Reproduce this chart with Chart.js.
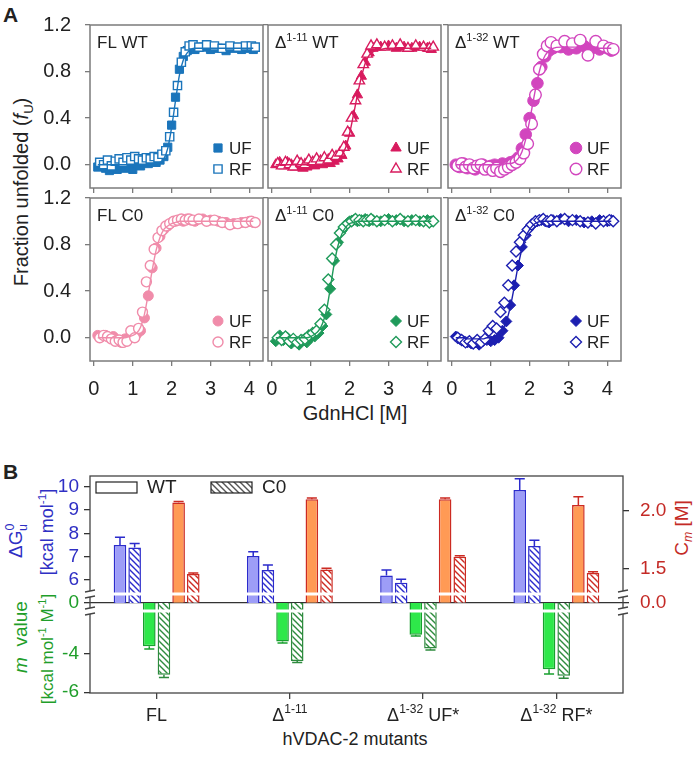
<!DOCTYPE html>
<html lang="en">
<head>
<meta charset="UTF-8" />
<title>hVDAC-2 chemical denaturation</title>
<script src="https://cdn.jsdelivr.net/npm/chart.js"></script>
<style>
  body { margin: 0; background: #fff; }
  #fig { position: relative; width: 693px; height: 758px; overflow: hidden;
         font-family: "Liberation Sans", Arial, sans-serif; color: #222; }
  #fig canvas { position: absolute; }
  .t { position: absolute; white-space: nowrap; line-height: 1; }
  .rot { transform: translate(-50%, -50%) rotate(-90deg); }
  .mid { transform: translate(-50%, -50%); }
  .panel { font-weight: bold; font-size: 21px; }
  sup, sub { font-size: 65%; line-height: 0; }
</style>
</head>
<body>
<div id="fig">
  <div class="t panel" style="left:3px; top:4px;">A</div>
  <div class="t panel" style="left:3px; top:461px;">B</div>
  <div class="t rot" style="left:21px; top:192px; font-size:20px;">Fraction unfolded (<i>f</i><sub>U</sub>)</div>
  <div class="t mid" style="left:355px; top:413px; font-size:20px;">GdnHCl [M]</div>

  <div class="t rot" style="left:15px; top:541px; font-size:19px; color:#2f2fc4;">&Delta;G<sup>0</sup><sub style="margin-left:-0.6em">u</sub></div>
  <div class="t rot" style="left:47px; top:532px; font-size:18px; color:#2f2fc4;">[kcal mol<sup>-1</sup>]</div>
  <div class="t rot" style="left:20px; top:637px; font-size:19px; color:#1f9e2a;"><i>m</i>&nbsp; value</div>
  <div class="t rot" style="left:47px; top:649px; font-size:17px; color:#1f9e2a;">[kcal mol<sup>-1</sup> M<sup>-1</sup>]</div>
  <div class="t rot" style="left:681px; top:528px; font-size:19px; color:#c42a26;">C<sub><i>m</i></sub> [M]</div>
  <div class="t mid" style="left:355px; top:739px; font-size:18px;">hVDAC-2 mutants</div>
</div>

<script>
  // ---------- Panel A: fraction unfolded vs GdnHCl ----------
  const conc   = [0.10, 0.20, 0.30, 0.40, 0.50, 0.60, 0.70, 0.80, 0.90, 1.00, 1.10, 1.20, 1.30, 1.40, 1.50, 1.60, 1.70,
                  1.80, 1.90, 2.00, 2.10, 2.20, 2.30, 2.40, 2.50, 2.60, 2.80, 3.00, 3.20, 3.40, 3.60, 3.80, 4.00, 4.10];
  const concRF = [0.15, 0.25, 0.35, 0.45, 0.55, 0.65, 0.75, 0.85, 0.95, 1.05, 1.15, 1.25, 1.35, 1.45, 1.55, 1.65, 1.75,
                  1.85, 1.95, 2.05, 2.15, 2.25, 2.35, 2.45, 2.55, 2.70, 2.90, 3.10, 3.30, 3.50, 3.70, 3.90, 4.05, 4.15];
  const gdnTicks = [0, 1, 2, 3, 4];
  const fuTicks = [0, 0.4, 0.8, 1.2];

  const flWtUF  = [-0.02, 0.01, -0.03, -0.05, -0.02, -0.04, 0.00, -0.03, -0.01, -0.04, 0.01, -0.01, 0.02, 0.01, 0.03, 0.02, 0.04,
                   0.07, 0.15, 0.34, 0.58, 0.82, 0.93, 0.98, 1.00, 0.99, 1.01, 0.99, 1.00, 0.98, 1.00, 0.99, 1.00, 0.99];
  const flWtRF  = [0.02, 0.00, 0.04, -0.01, 0.03, 0.05, 0.02, 0.06, 0.04, 0.07, 0.05, 0.04, 0.06, 0.05, 0.07, 0.06, 0.09,
                   0.12, 0.24, 0.45, 0.68, 0.88, 0.97, 1.02, 1.03, 1.01, 1.03, 1.02, 1.00, 1.02, 1.01, 1.02, 1.02, 1.01];
  const flWtFit = [0, 0, 0, 0, 0, 0, 0, 0, 0, 0, 0, 0, 0, 0, 0.01, 0.01, 0.02,
                   0.05, 0.14, 0.32, 0.55, 0.77, 0.90, 0.96, 0.99, 1, 1, 1, 1, 1, 1, 1, 1, 1];

  const d11WtUF  = [0.00, 0.02, -0.01, 0.02, 0.00, -0.02, 0.01, -0.03, -0.02, 0.00, -0.01, 0.01, 0.00, 0.02, 0.01, 0.03, 0.05,
                    0.08, 0.16, 0.27, 0.42, 0.60, 0.76, 0.88, 0.96, 1.00, 1.01, 1.02, 1.00, 1.01, 1.00, 1.01, 1.00, 0.99];
  const d11WtRF  = [0.01, -0.01, 0.02, 0.00, -0.02, 0.03, 0.01, 0.00, 0.04, 0.02, 0.05, 0.03, 0.06, 0.04, 0.08, 0.07, 0.10,
                    0.15, 0.28, 0.40, 0.55, 0.72, 0.86, 0.95, 1.02, 1.03, 1.01, 1.02, 1.03, 1.00, 1.02, 1.01, 1.00, 1.01];
  const d11WtFit = [0, 0, 0, 0, 0, 0, 0, 0, 0, 0, 0, 0, 0, 0.01, 0.01, 0.02, 0.04,
                    0.08, 0.15, 0.27, 0.43, 0.60, 0.75, 0.87, 0.94, 0.97, 0.99, 1, 1, 1, 1, 1, 1, 1];

  const d32WtUF  = [0.00, -0.02, 0.01, -0.03, -0.01, -0.04, -0.02, 0.00, -0.03, -0.01, 0.00, -0.02, 0.01, 0.00, 0.02, 0.03, 0.06,
                    0.14, 0.26, 0.40, 0.55, 0.70, 0.84, 0.93, 0.98, 1.00, 1.01, 0.99, 1.00, 1.02, 1.00, 0.99, 1.00, 0.98];
  const d32WtRF  = [-0.01, 0.01, -0.02, 0.00, -0.03, -0.01, 0.00, -0.04, -0.02, -0.05, -0.03, -0.06, -0.04, -0.02, 0.00, 0.02, 0.05,
                    0.10, 0.18, 0.35, 0.60, 0.82, 0.95, 1.02, 1.05, 1.02, 1.06, 1.04, 1.07, 0.94, 1.06, 1.02, 1.00, 0.99];
  const d32WtFit = [0, 0, 0, 0, 0, 0, 0, 0, 0, 0, 0, 0, 0, 0.01, 0.01, 0.02, 0.05,
                    0.11, 0.22, 0.38, 0.56, 0.73, 0.86, 0.94, 0.98, 1.00, 1.01, 1.01, 1.01, 1.01, 1.01, 1.00, 1.00, 1.00];

  const flC0UF  = [0.02, 0.01, 0.02, 0.00, 0.01, -0.02, -0.04, -0.01, 0.00, 0.02, 0.03, 0.06, 0.17, 0.36, 0.60, 0.77, 0.87,
                   0.93, 0.96, 0.99, 1.00, 1.01, 1.00, 1.02, 1.01, 1.00, 1.02, 1.01, 1.00, 0.99, 0.98, 0.99, 1.00, 0.99];
  const flC0RF  = [0.00, 0.02, 0.01, -0.01, -0.03, -0.02, -0.04, -0.03, 0.06, 0.00, 0.08, 0.22, 0.48, 0.62, 0.76, 0.86, 0.92,
                   0.96, 0.98, 1.00, 1.01, 1.02, 1.01, 1.02, 1.01, 1.02, 1.00, 1.01, 0.99, 0.97, 0.98, 0.99, 1.00, 0.99];
  const flC0Fit = [0, 0, 0, 0, 0, 0, 0, 0, 0.01, 0.02, 0.04, 0.09, 0.20, 0.38, 0.58, 0.75, 0.86,
                   0.93, 0.96, 0.98, 0.99, 1, 1, 1, 1, 1, 1, 1, 1, 1, 1, 1, 1, 1];

  const d11C0UF  = [-0.03, 0.02, -0.02, 0.00, -0.05, -0.03, -0.06, -0.02, -0.04, 0.00, 0.01, 0.04, 0.10, 0.20, 0.42, 0.66, 0.82,
                    0.92, 0.97, 1.00, 1.01, 1.00, 1.01, 1.02, 1.00, 1.01, 1.00, 1.02, 1.01, 1.00, 1.01, 1.00, 1.01, 1.00];
  const d11C0RF  = [0.00, -0.02, 0.01, -0.03, -0.01, -0.04, -0.02, -0.01, 0.02, 0.04, 0.06, 0.12, 0.24, 0.50, 0.68, 0.80, 0.90,
                    0.95, 0.98, 1.00, 1.02, 1.01, 1.00, 1.01, 1.02, 1.00, 1.01, 1.00, 1.02, 1.00, 1.01, 1.00, 0.99, 1.00];
  const d11C0Fit = [0, 0, 0, 0, 0, 0, 0, 0, 0, 0.01, 0.03, 0.06, 0.12, 0.23, 0.42, 0.63, 0.79,
                    0.89, 0.95, 0.98, 0.99, 1, 1, 1, 1, 1, 1, 1, 1, 1, 1, 1, 1, 1];

  const d32C0UF  = [0.01, -0.01, -0.03, -0.04, -0.05, -0.04, -0.06, -0.03, -0.02, -0.03, -0.02, 0.00, 0.06, 0.14, 0.28, 0.45, 0.62,
                    0.78, 0.88, 0.95, 0.98, 1.00, 1.01, 1.00, 0.99, 1.01, 1.02, 1.00, 1.01, 0.99, 1.00, 1.01, 1.00, 1.01];
  const d32C0RF  = [0.00, -0.02, -0.04, -0.03, -0.05, -0.02, -0.04, -0.01, 0.06, 0.10, 0.08, 0.22, 0.30, 0.45, 0.62, 0.74, 0.82,
                    0.88, 0.93, 0.97, 1.00, 1.01, 1.02, 1.00, 1.01, 1.00, 1.02, 1.01, 1.00, 0.99, 0.98, 1.00, 1.01, 1.00];
  const d32C0Fit = [0, 0, 0, -0.01, -0.01, -0.01, -0.01, -0.01, 0, 0, 0.01, 0.03, 0.07, 0.14, 0.26, 0.43, 0.61,
                    0.76, 0.87, 0.93, 0.97, 0.99, 1, 1, 1, 1, 1, 1, 1, 1, 1, 1, 1, 1];

  const panelNames  = ['FL WT', 'Δ1-11 WT', 'Δ1-32 WT', 'FL C0', 'Δ1-11 C0', 'Δ1-32 C0'];
  const panelSeries = [[flWtUF, flWtRF, flWtFit], [d11WtUF, d11WtRF, d11WtFit], [d32WtUF, d32WtRF, d32WtFit],
                       [flC0UF, flC0RF, flC0Fit], [d11C0UF, d11C0RF, d11C0Fit], [d32C0UF, d32C0RF, d32C0Fit]];
  const seriesNames = ['UF', 'RF'];

  // ---------- Panel B: stability parameters ----------
  const mutants = ['FL', 'Δ1-11', 'Δ1-32 UF*', 'Δ1-32 RF*'];
  const legendNames = ['WT', 'C0'];
  const dgWT    = [7.50, 7.03, 6.19, 9.86];
  const dgWTErr = [0.33, 0.18, 0.24, 0.48];
  const dgC0    = [7.39, 6.43, 5.88, 7.46];
  const dgC0Err = [0.18, 0.21, 0.15, 0.25];
  const mWT     = [-3.64, -3.40, -3.05, -4.82];
  const mWTErr  = [0.14, 0.07, 0.06, 0.24];
  const mC0     = [-5.10, -4.40, -3.75, -5.15];
  const mC0Err  = [0.15, 0.08, 0.08, 0.13];
  const cmWT    = [2.07, 2.10, 2.10, 2.05];
  const cmWTErr = [0.01, 0.01, 0.01, 0.07];
  const cmC0    = [1.45, 1.49, 1.60, 1.46];
  const cmC0Err = [0.01, 0.01, 0.01, 0.01];
  const dgTicks = [6, 7, 8, 9, 10];
  const mTicks  = [-4, -6];
  const cmTicks = [1.5, 2.0];
  const zeroTick = [0];

  // ---------- styling / layout ----------
  const FONT = '"Liberation Sans", Arial, sans-serif';
  Chart.defaults.font.family = FONT;
  Chart.defaults.color = '#222';

  const panelColors = ['#1b75bb', '#d81b5e', '#d246be', '#f08caa', '#1f9a5a', '#1c1fb0'];
  const panelShapes = ['rect', 'triangle', 'circle', 'circle', 'rectRot', 'rectRot'];
  const panelSizes  = [5.8, 6, 5.8, 5, 5.5, 5.5];

  const fig = document.getElementById('fig');
  const BOX_X = [90, 268, 448], BOX_Y = [25, 198], BOX_W = 173, BOX_H = 163;

  function addCanvas(left, top, w, h) {
    const cv = document.createElement('canvas');
    cv.width = w; cv.height = h;
    cv.style.left = left + 'px'; cv.style.top = top + 'px';
    cv.style.width = w + 'px'; cv.style.height = h + 'px';
    fig.appendChild(cv);
    return cv;
  }

  const xy = (xs, ys) => ys.map((y, i) => ({ x: xs[i], y: y }));

  // fixed axis size, and no extra room reserved for half-labels at the ends
  function fixSize(sc, size) {
    if (sc.isHorizontal()) sc.height = size; else sc.width = size;
    sc.paddingTop = sc.paddingBottom = sc.paddingLeft = sc.paddingRight = 0;
  }

  // text like "Δ1-32 UF*" with the residue range raised
  function drawRich(ctx, text, x, y, size, align) {
    const m = text.match(/^Δ(\d+-\d+)(.*)$/);
    const parts = m ? [['Δ', size, 0], [m[1], Math.round(size * 0.66), -size * 0.42], [m[2], size, 0]]
                    : [[text, size, 0]];
    let total = 0;
    parts.forEach(p => { ctx.font = p[1] + 'px ' + FONT; p.w = ctx.measureText(p[0]).width; total += p.w; });
    let cx = align === 'center' ? x - total / 2 : x;
    ctx.textAlign = 'left';
    ctx.textBaseline = 'alphabetic';
    parts.forEach(p => { ctx.font = p[1] + 'px ' + FONT; ctx.fillText(p[0], cx, y + p[2]); cx += p.w; });
  }

  const boxFrame = {
    id: 'boxFrame',
    afterDraw(chart, args, o) {
      const { ctx, chartArea: a } = chart;
      ctx.save();
      ctx.strokeStyle = o.color;
      ctx.lineWidth = o.width;
      ctx.strokeRect(a.left, a.top, a.right - a.left, a.bottom - a.top);
      ctx.restore();
    }
  };

  const panelLabels = {
    id: 'panelLabels',
    afterDraw(chart, args, o) {
      const { ctx, chartArea: a } = chart;
      ctx.save();
      ctx.fillStyle = '#222';
      drawRich(ctx, o.title, a.left + 7, a.top + 23, 17, 'left');
      seriesNames.forEach((name, k) => {
        const ds = chart.data.datasets[k === 0 ? 2 : 1];
        const y = a.bottom - 40 + k * 21;
        ctx.fillStyle = ds.pointBackgroundColor;
        ctx.strokeStyle = ds.pointBorderColor;
        ctx.lineWidth = ds.pointBorderWidth;
        Chart.helpers.drawPoint(ctx, { pointStyle: ds.pointStyle, radius: ds.pointRadius,
                                       borderWidth: ds.pointBorderWidth, rotation: 0 }, a.right - 45, y);
        ctx.fillStyle = '#222';
        ctx.font = '17px ' + FONT;
        ctx.textAlign = 'left';
        ctx.textBaseline = 'middle';
        ctx.fillText(name, a.right - 34, y + 1);
      });
      ctx.restore();
    }
  };

  panelSeries.forEach((s, n) => {
    const row = Math.floor(n / 3), col = n % 3;
    const leftW = col === 0 ? 62 : 10, botH = row === 1 ? 46 : 10, padT = 14, padR = 8;
    const w = leftW + BOX_W + padR, h = padT + BOX_H + botH;
    const cv = addCanvas(BOX_X[col] - leftW, BOX_Y[row] - padT, w, h);
    const color = panelColors[n];
    const axisGrid = { drawOnChartArea: false, drawTicks: true, tickLength: 5, color: '#7b7b7b', lineWidth: 1.3 };

    new Chart(cv, {
      type: 'scatter',
      data: {
        datasets: [
          { type: 'line', data: xy(conc, s[2]), borderColor: color, borderWidth: 1.4, pointRadius: 0,
            cubicInterpolationMode: 'monotone', fill: false },
          { data: xy(concRF, s[1]), pointStyle: panelShapes[n], pointRadius: panelSizes[n],
            pointBackgroundColor: '#fff', pointBorderColor: color, pointBorderWidth: 1.4 },
          { data: xy(conc, s[0]), pointStyle: panelShapes[n], pointRadius: panelSizes[n],
            pointBackgroundColor: color, pointBorderColor: color, pointBorderWidth: 1 }
        ]
      },
      options: {
        responsive: false, animation: false, events: [],
        layout: { autoPadding: false, padding: { top: padT, right: padR, left: 0, bottom: 0 } },
        plugins: {
          legend: { display: false }, tooltip: { enabled: false },
          boxFrame: { color: '#7b7b7b', width: 1.5 },
          panelLabels: { title: panelNames[n] }
        },
        scales: {
          x: {
            type: 'linear', min: -0.1, max: 4.35,
            afterBuildTicks: sc => { sc.ticks = gdnTicks.map(v => ({ value: v })); },
            afterFit: sc => fixSize(sc, botH),
            grid: axisGrid, border: { display: false },
            ticks: { display: row === 1, padding: 11, font: { size: 20 }, color: '#222', maxRotation: 0, autoSkip: false }
          },
          y: {
            type: 'linear', min: -0.2, max: 1.2,
            afterBuildTicks: sc => { sc.ticks = fuTicks.map(v => ({ value: v })); },
            afterFit: sc => fixSize(sc, leftW),
            grid: axisGrid, border: { display: false },
            ticks: { display: col === 0, padding: 14, font: { size: 20 }, color: '#222', autoSkip: false,
                     callback: v => v.toFixed(1) }
          }
        }
      },
      plugins: [boxFrame, panelLabels]
    });
  });

  // ---------- Panel B chart ----------
  function hatch(color) {
    const c = document.createElement('canvas');
    c.width = c.height = 6;
    const g = c.getContext('2d');
    g.fillStyle = '#fff';
    g.fillRect(0, 0, 6, 6);
    g.strokeStyle = color;
    g.lineWidth = 1.4;
    g.beginPath();
    g.moveTo(-1, -1); g.lineTo(7, 7);
    g.moveTo(-1, 5); g.lineTo(1, 7);
    g.moveTo(5, -1); g.lineTo(7, 1);
    g.stroke();
    return g.createPattern(c, 'repeat');
  }

  const blueFill = '#9d9df7', blueLine = '#2b2bcc';
  const greenFill = '#2ee84a', greenLine = '#18a02e', greenHatch = '#2e8b3e';
  const orangeFill = '#ff9a55', redLine = '#cc2a22';
  const blueText = '#2f2fc4', greenText = '#1f9e2a', redText = '#c42a26';

  // bars start at the zero line (pixel 603), expressed in each broken axis' own units
  const BASE_G = 5.0, BASE_M = -1.42, BASE_C = 1.2;

  const bar = (label, data, errors, axis, base, fill, line) => ({
    label, data, errors, yAxisID: axis, base, backgroundColor: fill, borderColor: line,
    borderWidth: 1.5, clip: false, categoryPercentage: 0.66, barPercentage: 0.86
  });

  function seg(o) {
    return {
      type: 'linear', position: o.pos, stack: o.pos, stackWeight: o.h, weight: o.weight,
      min: o.min, max: o.max, z: o.zero ? 1 : 0,
      afterBuildTicks: sc => { sc.ticks = o.ticks.map(v => ({ value: v })); },
      afterFit: sc => fixSize(sc, o.pos === 'left' ? 40 : 70),
      border: { display: false },
      grid: { display: o.ticks.length > 0, drawOnChartArea: !!o.zero, drawTicks: true, tickLength: 6,
              color: '#333', lineWidth: 1.3 },
      ticks: { display: o.ticks.length > 0, color: o.color, font: { size: 19 }, autoSkip: false,
               padding: o.pos === 'left' ? 5 : 11, callback: o.fmt || (v => v) }
    };
  }

  function breakMark(ctx, x, y) {
    ctx.fillStyle = '#fff';
    ctx.fillRect(x - 3, y - 3, 6, 6);
    ctx.beginPath();
    ctx.moveTo(x - 5, y - 2); ctx.lineTo(x + 5, y - 4);
    ctx.moveTo(x - 5, y + 4); ctx.lineTo(x + 5, y + 2);
    ctx.stroke();
  }

  const bExtras = {
    id: 'bExtras',
    afterDatasetsDraw(chart) {
      const { ctx, chartArea: a, scales } = chart;
      ctx.save();
      chart.data.datasets.forEach((ds, i) => {
        const sc = scales[ds.yAxisID];
        chart.getDatasetMeta(i).data.forEach((el, j) => {
          const v = ds.data[j], e = ds.errors[j];
          const end = sc.getPixelForValue(v >= ds.base ? v + e : v - e);
          const hw = el.width * 0.4;
          ctx.strokeStyle = ds.borderColor;
          ctx.lineWidth = 1.5;
          ctx.beginPath();
          ctx.moveTo(el.x, el.y); ctx.lineTo(el.x, end);
          ctx.moveTo(el.x - hw, end); ctx.lineTo(el.x + hw, end);
          ctx.stroke();
        });
      });
      // white gaps where the value axes are broken
      ctx.fillStyle = '#fff';
      [scales.yG.bottom, scales.yM.top].forEach(y => ctx.fillRect(a.left + 1, y - 1.5, a.right - a.left - 2, 3));
      ctx.restore();
    },
    afterDraw(chart) {
      const { ctx, chartArea: a, scales } = chart;
      ctx.save();
      ctx.strokeStyle = '#444';
      ctx.lineWidth = 1.3;
      ctx.strokeRect(a.left, a.top, a.right - a.left, a.bottom - a.top);
      [scales.yG.bottom, scales.yM.top].forEach(y => [a.left, a.right].forEach(x => breakMark(ctx, x, y)));

      // legend
      const lx = a.left + 6, ly = a.top + 6;
      ctx.lineWidth = 1.2;
      ctx.strokeStyle = '#222';
      ctx.fillStyle = '#fff';
      ctx.fillRect(lx, ly, 41, 11);
      ctx.strokeRect(lx, ly, 41, 11);
      ctx.fillStyle = hatch('#555');
      ctx.fillRect(lx + 115, ly, 41, 11);
      ctx.strokeRect(lx + 115, ly, 41, 11);
      ctx.fillStyle = '#222';
      ctx.font = '19px ' + FONT;
      ctx.textAlign = 'left';
      ctx.textBaseline = 'middle';
      ctx.fillText(legendNames[0], lx + 51, ly + 6);
      ctx.fillText(legendNames[1], lx + 166, ly + 6);

      // category labels
      ctx.fillStyle = '#222';
      chart.data.labels.forEach((lab, i) => {
        drawRich(ctx, lab, scales.x.getPixelForValue(i), a.bottom + 28, 18, 'center');
      });
      ctx.restore();
    }
  };

  const cvB = addCanvas(50, 466, 643, 264);
  new Chart(cvB, {
    type: 'bar',
    data: {
      labels: mutants,
      datasets: [
        bar('ΔG WT', dgWT, dgWTErr, 'yG', BASE_G, blueFill, blueLine),
        bar('ΔG C0', dgC0, dgC0Err, 'yG', BASE_G, hatch(blueLine), blueLine),
        bar('m WT', mWT, mWTErr, 'yM', BASE_M, greenFill, greenLine),
        bar('m C0', mC0, mC0Err, 'yM', BASE_M, hatch(greenHatch), greenHatch),
        bar('Cm WT', cmWT, cmWTErr, 'yC', BASE_C, orangeFill, redLine),
        bar('Cm C0', cmC0, cmC0Err, 'yC', BASE_C, hatch(redLine), redLine)
      ]
    },
    options: {
      responsive: false, animation: false, events: [],
      layout: { autoPadding: false, padding: { top: 10, right: 0, left: 0, bottom: 0 } },
      plugins: { legend: { display: false }, tooltip: { enabled: false } },
      scales: {
        x: {
          type: 'category', offset: true,
          grid: { offset: false, drawOnChartArea: false, tickLength: 6, color: '#444', lineWidth: 1.3 },
          border: { display: false }, ticks: { display: false },
          afterFit: sc => fixSize(sc, 37)
        },
        yG:  seg({ pos: 'left', weight: 3, h: 118, min: 5.40, max: 10.46, ticks: dgTicks, color: blueText }),
        yZ:  seg({ pos: 'left', weight: 2, h: 17, min: -0.8, max: 0.9, ticks: zeroTick, color: greenText, zero: true }),
        yM:  seg({ pos: 'left', weight: 1, h: 82, min: -6.04, max: -1.83, ticks: mTicks, color: greenText }),
        yC:  seg({ pos: 'right', weight: 1, h: 118, min: 1.277, max: 2.301, ticks: cmTicks, color: redText, fmt: v => v.toFixed(1) }),
        yCZ: seg({ pos: 'right', weight: 2, h: 17, min: -0.8, max: 0.9, ticks: zeroTick, color: redText, fmt: v => v.toFixed(1) }),
        yCB: seg({ pos: 'right', weight: 3, h: 82, min: 0, max: 1, ticks: [], color: redText })
      }
    },
    plugins: [bExtras]
  });
</script>
</body>
</html>
